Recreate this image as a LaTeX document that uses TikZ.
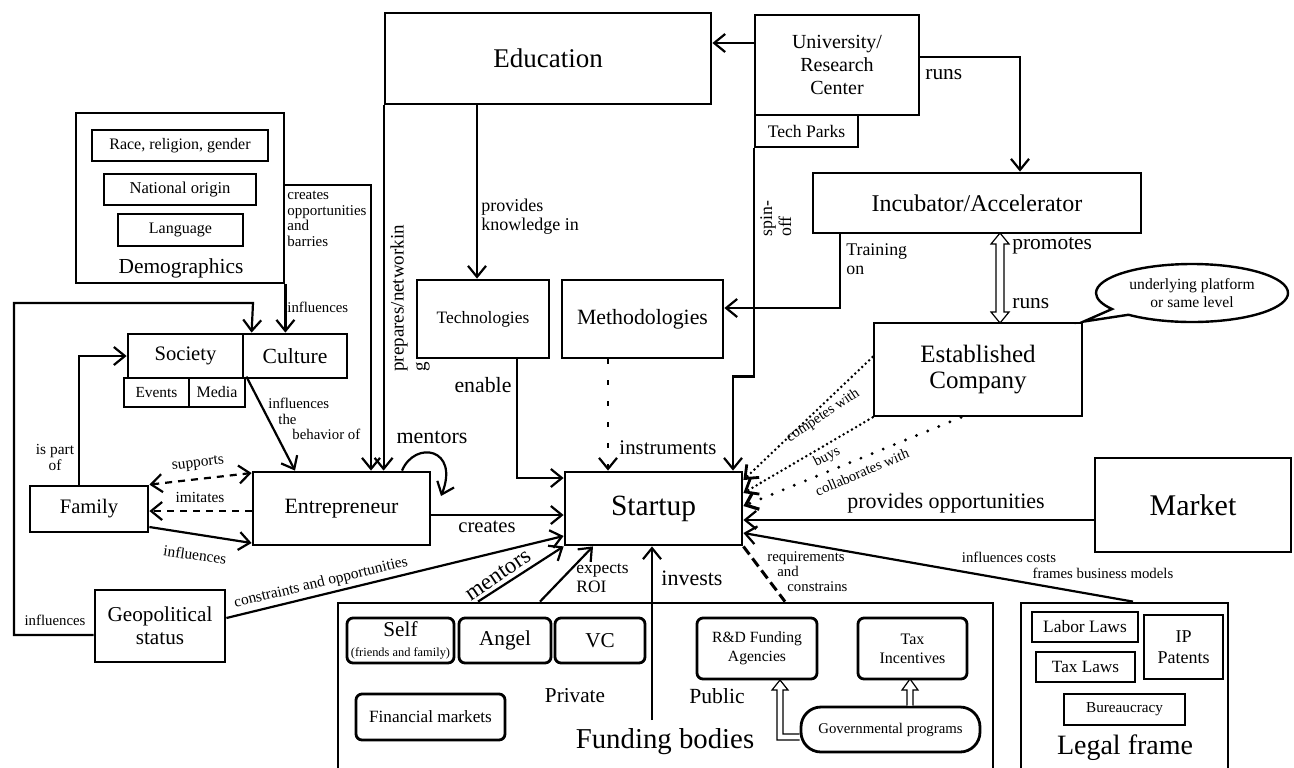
\documentclass[tikz,border=0pt]{standalone}
\usepackage{fontspec}
\setmainfont{Liberation Serif}
\usetikzlibrary{arrows.meta,shapes.callouts,calc}
\begin{document}
\begin{tikzpicture}[x=0.5pt,y=-0.5pt,
  box/.style={draw, line width=1.4pt, inner sep=0pt, align=center},
  rbox/.style={box, rounded corners=3pt},
  cb/.style n args={4}{minimum width={(#3-#1)*0.5pt}, minimum height={(#4-#2)*0.5pt},
     at={({(#1+#3)/2},{(#2+#4)/2})}},
  arr/.style={line width=1.1pt, -{Straight Barb[length=5.5pt,width=9pt]}},
  lbl/.style={inner sep=0pt, align=left},
  fnt/.style 2 args={font=\fontsize{#1}{#2}\selectfont},
  dsh/.style={dash pattern=on 3.5pt off 3pt},
  dots/.style={line width=1.4pt, dash pattern=on 0pt off 2.4pt, line cap=round},
  sdots/.style={line width=1.6pt, dash pattern=on 0pt off 6pt, line cap=round},
  hollow/.style={line width=0.6pt, fill=white, line join=miter}
]
\useasboundingbox (0,0) rectangle (1294,767);
\fill[white] (0,0) rectangle (1294,767);
\clip (0,0) rectangle (1294,767);

% ---------- top ----------
\node[box, cb={385}{13}{711}{104}, fnt={13.5}{15}] (edu) {Education};
\node[box, cb={755}{15}{919}{115}, fnt={10}{11.5}] (uni) {University/\\Research\\Center};
\node[box, cb={755}{115}{858}{147}, fnt={8.8}{10}] (tp) {Tech Parks};
\node[box, cb={813}{173}{1141}{233}, fnt={12}{13}] (inc) {Incubator/Accelerator};
\node[box, cb={874}{323}{1082}{416}, fnt={12.5}{12.8}] (est) {Established\\Company};
\node[ellipse callout, draw, line width=1.2pt, minimum width=96pt, minimum height=29pt,
      inner sep=0pt, align=center, fnt={7.8}{9},
      callout absolute pointer={(est.north east)}] (bub) at (1192,293) {underlying platform\\or same level};
\node[box, cb={1095}{458}{1291}{552}, fnt={15}{16}] (mkt) {Market};

% ---------- demographics ----------
\node[box, cb={76}{113}{284}{283}] (demo) {};
\node[fnt={10.7}{12}] (demot) at (181,268) {Demographics};
\node[box, cb={92}{130}{268}{161}, fnt={8}{9}] (race) {Race, religion, gender};
\node[box, cb={104}{174}{256}{205}, fnt={8.3}{9}] (nat) {National origin};
\node[box, cb={118}{214}{243}{246}, fnt={8}{9}] (lang) {Language};

% ---------- society ----------
\node[box, cb={128}{334}{243}{378}, fnt={10.3}{11}] (soc) {Society};
\node[box, cb={243}{334}{347}{378}, fnt={10.8}{11}] (cul) {Culture};
\node[box, cb={124}{378}{189}{407}, fnt={7.7}{9}] (ev) {Events};
\node[box, cb={189}{378}{245}{407}, fnt={8}{9}] (med) {Media};

% ---------- middle ----------
\node[box, cb={417}{280}{549}{358}, fnt={8.7}{10}] (tech) {Technologies};
\node[box, cb={562}{280}{723}{358}, fnt={10.9}{12}] (meth) {Methodologies};
\node[box, cb={30}{486}{148}{532}, fnt={10.3}{11}] (fam) {Family};
\node[box, cb={253}{472}{430}{545}, fnt={10.9}{12}] (ent) {Entrepreneur};
\node[box, cb={565}{472}{742}{545}, fnt={14.7}{16}] (st) {Startup};
\node[box, cb={95}{590}{225}{662}, fnt={10.6}{11.5}] (geo) {Geopolitical\\status};

% ---------- funding ----------
\node[box, cb={338}{603}{993}{790}] (fund) {};
\node[rbox, cb={347}{618}{454}{663}, fnt={10.6}{10}] (self) {Self\\{\fontsize{6.2}{7}\selectfont(friends and family)}};
\node[rbox, cb={459}{618}{551}{663}, fnt={10.6}{11}] (ang) {Angel};
\node[rbox, cb={555}{618}{645}{663}, fnt={10.6}{11}] (vc) {VC};
\node[rbox, cb={356}{694}{505}{740}, fnt={8.6}{10}] (fin) {Financial markets};
\node[fnt={10.6}{11}] (priv) at (575,696) {Private};
\node[fnt={10.8}{11}] (pub) at (717,696) {Public};
\node[fnt={14.4}{15}] (fbt) at (665,742) {Funding bodies};
\node[rbox, cb={697}{618}{817}{679}, fnt={7.8}{9.5}] (rd) {R\&D Funding\\Agencies};
\node[rbox, cb={858}{618}{967}{679}, fnt={8}{9.5}] (taxi) {Tax\\Incentives};
\node[box, rounded corners=10pt, cb={801}{707}{980}{752}, fnt={7.4}{9}] (gov) {Governmental programs};

% ---------- legal ----------
\node[box, cb={1021}{603}{1228}{790}] (legal) {};
\node[box, cb={1032}{612}{1138}{642}, fnt={8.7}{10}] (lab) {Labor Laws};
\node[box, cb={1036}{652}{1135}{682}, fnt={8.6}{10}] (taxl) {Tax Laws};
\node[box, cb={1144}{615}{1223}{679}, fnt={9}{10.5}] (ip) {IP\\Patents};
\node[box, cb={1064}{694}{1185}{725}, fnt={7.6}{9}] (bur) {Bureaucracy};
\node[fnt={14}{15}] (lft) at (1125,748) {Legal frame};

% ---------- connectors ----------
\draw[arr] (uni.west|-0,43) -- (edu.east|-0,43);
\draw[arr] (uni.east|-0,57) -| (inc.north-|1020,0);
\node[lbl, fnt={10.7}{11}, anchor=west] at (925,75) {runs};

\draw[arr] (edu.south-|477,0) -- (tech.north-|477,0);
\node[lbl, fnt={9}{9.5}, anchor=north west] at (481,199) {provides\\knowledge in};

\draw[arr] (edu.south west) -- (edu.south west|-ent.north);
\node[lbl, fnt={9.5}{11}, rotate=90, anchor=north west] at (390,372) {prepares/networkin\\g};

\draw[arr] (demo.east|-0,185) -| (ent.north-|371,0);
\node[lbl, fnt={7.5}{7.7}, anchor=north west] at (287,191) {creates\\opportunities\\and\\barries};

\draw[arr] (demo.south east) -- (demo.south east|-cul.north);
\node[lbl, fnt={7.4}{8}, anchor=west] at (287,307) {influences};

\draw[arr] (geo.west|-0,635) -- (14,635) |- (253,303) -- ($(cul.north west)+(10,0)$);
\node[lbl, fnt={7.4}{8}] at (55,620) {influences};

\draw[arr] (fam.north-|79,0) |- (soc.west);
\node[lbl, fnt={7.7}{8}, align=center] at (55,457) {is part\\of};

\draw[arr] (med.north east) -- (ent.north-|295,0);
\node[lbl, fnt={7.4}{7.6}, anchor=north west] at (268,398) {influences\\\hspace*{5pt}the\\\hspace*{12pt}behavior of};

\draw[line width=1.1pt, dsh, {Straight Barb[length=5.5pt,width=9pt]}-{Straight Barb[length=5.5pt,width=9pt]}] (fam.north east) -- (ent.west|-0,473);
\node[lbl, fnt={7.7}{8}, rotate=7] at (198,464) {supports};
\draw[arr, dsh] (ent.west|-0,511) -- (fam.east|-0,511);
\node[lbl, fnt={7.7}{8}] at (200,497) {imitates};
\draw[arr] (fam.east|-0,527) -- (ent.west|-0,543);
\node[lbl, fnt={7.7}{8}, rotate=-8] at (195,555) {influences};

\draw[arr] (ent.east|-0,515) -- (st.west|-0,515);
\node[lbl, fnt={10.3}{11}] at (487,527) {creates};

\draw[arr] (ent.north-|402,0) .. controls (415,440) and (460,448) .. (441,496);
\node[lbl, fnt={11}{12}] at (432,437) {mentors};

\draw[arr] (tech.south-|517,0) |- (st.west|-0,478);
\node[lbl, fnt={10.9}{11}] at (483,385) {enable};

\draw[arr, dash pattern=on 2.5pt off 8pt] (meth.south-|608,0) -- (st.north-|608,0);
\node[lbl, fnt={10.4}{11}] at (668,448) {instruments};

\draw[arr] (inc.south-|840,0) |- (meth.east|-0,308);
\node[lbl, fnt={8.9}{9.5}, anchor=north west] at (846,243) {Training\\on};

\draw[arr] (tp.south west) -- ++(0,228) -| (st.north-|733,0);
\node[lbl, fnt={8.9}{9.5}, rotate=90, anchor=north west] at (760,237) {spin-\\off};

\draw[hollow] (1000,233) -- (1009,244) -- (1004,244) -- (1004,312) -- (1009,312) -- (1000,323)
  -- (991,312) -- (996,312) -- (996,244) -- (991,244) -- cycle;
\node[lbl, fnt={10.7}{11}, anchor=west] at (1012,246) {promotes};
\node[lbl, fnt={10.7}{11}, anchor=west] at (1012,304) {runs};

\draw[arr, dots] (est.west|-0,357) -- (st.east|-0,480);
\draw[arr, dots] (est.south west) -- (st.east|-0,493);
\draw[arr, sdots] (est.south-|961,0) -- (st.east|-0,506);
\node[lbl, fnt={7.3}{8}, rotate=34] at (823,416) {competes with};
\node[lbl, fnt={7.3}{8}, rotate=27] at (827,457) {buys};
\node[lbl, fnt={7.3}{8}, rotate=23] at (862,472) {collaborates with};

\draw[arr] (mkt.west|-0,520) -- (st.east|-0,520);
\node[lbl, fnt={11}{12}] at (946,503) {provides opportunities};

\draw[arr] (legal.north-|1133,0) -- (st.east|-0,533);
\node[lbl, fnt={7.4}{8}] at (1009,557) {influences costs};
\node[lbl, fnt={7.4}{8}] at (1103,573) {frames business models};

\draw[arr] (geo.east|-0,618) -- (st.west|-0,536);
\node[lbl, fnt={7.7}{8}, rotate=13.5] at (321,583) {constraints and opportunities};

\draw[arr] (fund.north-|478,0) -- (st.south west);
\node[lbl, fnt={11.5}{12}, rotate=34] at (498,575) {mentors};
\draw[arr] (fund.north-|540,0) -- (st.south-|593,0);
\node[lbl, fnt={8.7}{9.5}, anchor=north west] at (576,563) {expects\\ROI};
\coordinate (inv) at (652,720);
\draw[arr] (inv) -- (st.south-|652,0);
\node[lbl, fnt={11}{12}, anchor=west] at (661,578) {invests};
\draw[line width=1.5pt, dash pattern=on 5pt off 2.5pt] (st.south east) -- (fund.north-|785,0);
\node[lbl, fnt={7.4}{7.6}, anchor=north west] at (767,551) {requirements\\\hspace*{5pt}and\\\hspace*{10pt}constrains};

\draw[hollow] (gov.west|-0,740) -- (777,740) -- (777,690) -- (772,690) -- (780,680) -- (788,690)
  -- (783,690) -- (783,734) -- (gov.west|-0,734);
\draw[hollow] (gov.north-|907,0) -- (907,690) -- (902,690) -- (910,679) -- (918,690) -- (913,690) -- (gov.north-|913,0);
\end{tikzpicture}
\end{document}
